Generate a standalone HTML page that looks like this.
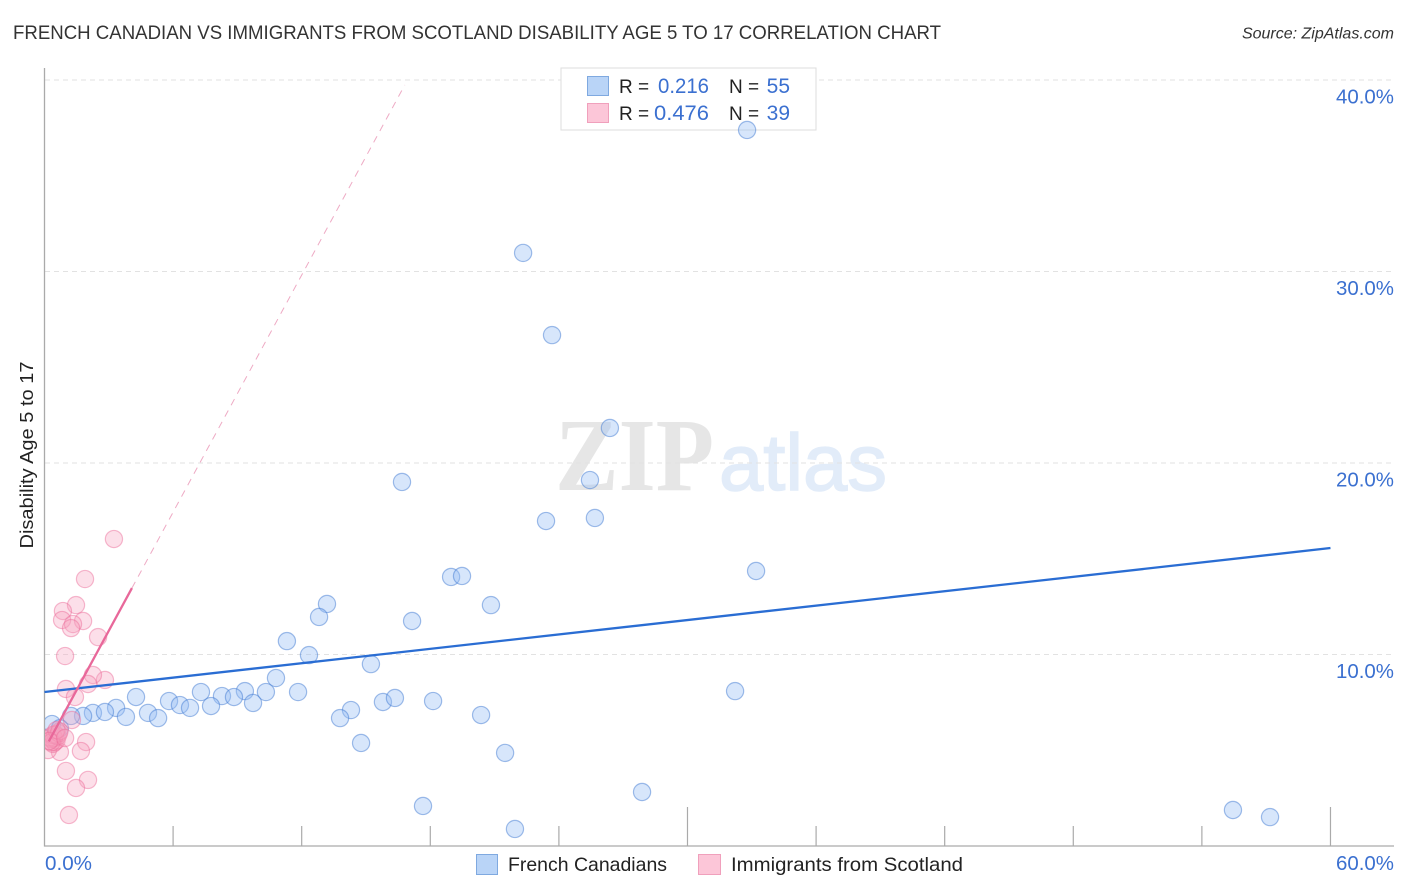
<!DOCTYPE html>
<html lang="en">
<head>
<meta charset="utf-8">
<title>French Canadian vs Immigrants from Scotland Disability Age 5 to 17 Correlation Chart</title>
<style>
html,body{margin:0;padding:0;background:#fff;}
svg{display:block;font-family:"Liberation Sans",sans-serif;}
</style>
</head>
<body>
<svg id="chart" width="1406" height="892" viewBox="0 0 1406 892" xmlns="http://www.w3.org/2000/svg">
  <defs>
    <clipPath id="plotClip"><rect x="45" y="60" width="1349" height="786"/></clipPath>
  </defs>
  <rect width="1406" height="892" fill="#fff"/>
  <g>
    <text x="555" y="490" font-family="'Liberation Serif',serif" font-weight="bold" font-size="104" fill="#e6e6e6" textLength="159" lengthAdjust="spacingAndGlyphs">ZIP</text>
    <text x="719" y="490" font-family="'Liberation Sans',sans-serif" font-size="80" fill="#e2ecf9" stroke="#e2ecf9" stroke-width="1.5" textLength="168" lengthAdjust="spacingAndGlyphs">atlas</text>
  </g>
  <g id="grid"></g>
  <g id="axes"></g>
  <text x="13" y="39" font-size="19.5" fill="#333" textLength="928" lengthAdjust="spacingAndGlyphs">FRENCH CANADIAN VS IMMIGRANTS FROM SCOTLAND DISABILITY AGE 5 TO 17 CORRELATION CHART</text>
  <text x="1394" y="38.5" font-size="16" font-style="italic" fill="#333" text-anchor="end">Source: ZipAtlas.com</text>
  <text transform="translate(33,455) rotate(-90)" font-size="18" fill="#222" text-anchor="middle" textLength="187" lengthAdjust="spacingAndGlyphs">Disability Age 5 to 17</text>
  <g>
    <rect x="561" y="68" width="255" height="62" fill="#fff" stroke="#ddd" stroke-width="1"/>
    <rect x="587.5" y="76.5" width="21" height="19" fill="#b9d4f7" stroke="#7fa9e0"/>
    <rect x="587.5" y="103.5" width="21" height="19" fill="#fcc6d8" stroke="#f0a0bc"/>
    <text x="619" y="93" font-size="19" fill="#222">R =</text>
    <text x="658" y="93" font-size="21" fill="#3b70d0" textLength="51" lengthAdjust="spacingAndGlyphs">0.216</text>
    <text x="729" y="93" font-size="19" fill="#222">N =</text>
    <text x="790" y="93" font-size="21" fill="#3b70d0" text-anchor="end">55</text>
    <text x="619" y="120" font-size="19" fill="#222">R =</text>
    <text x="654" y="120" font-size="21" fill="#3b70d0" textLength="55" lengthAdjust="spacingAndGlyphs">0.476</text>
    <text x="729" y="120" font-size="19" fill="#222">N =</text>
    <text x="790" y="120" font-size="21" fill="#3b70d0" text-anchor="end">39</text>
  </g>
  <g clip-path="url(#plotClip)">
    <g id="pointsBlue"></g>
    <g id="pointsPink"></g>
  </g>
  <g id="trends"></g>
  <g id="tickLabels"></g>
  <g>
    <rect x="476.5" y="854.5" width="21" height="20" fill="#b9d4f7" stroke="#7fa9e0"/>
    <text x="508" y="871" font-size="19.5" fill="#222" textLength="159" lengthAdjust="spacingAndGlyphs">French Canadians</text>
    <rect x="698.5" y="854.5" width="22" height="20" fill="#fcc6d8" stroke="#f0a0bc"/>
    <text x="731" y="871" font-size="19.5" fill="#222" textLength="232" lengthAdjust="spacingAndGlyphs">Immigrants from Scotland</text>
  </g>
</svg>
<script>
const blueX = [32.78,22.33,23.68,26.38,16.68,25.45,23.40,25.68,33.20,18.97,19.48,20.83,13.18,12.81,17.15,11.31,12.34,15.23,10.80,32.22,4.27,5.81,7.30,9.35,8.28,8.84,10.33,11.83,6.32,7.77,9.73,6.79,3.34,2.26,2.82,4.83,3.80,5.30,1.80,1.24,14.30,13.79,15.79,16.35,18.13,20.37,14.77,21.49,27.88,17.66,21.95,55.45,57.18,0.35,0.72];
const blueY = [37.39,30.97,26.68,21.83,19.01,19.11,16.97,17.13,14.36,14.05,14.10,12.58,12.64,11.96,11.75,10.70,9.97,9.50,8.77,8.09,7.78,7.57,8.04,8.09,7.83,7.78,8.04,8.04,7.36,7.31,7.47,7.21,7.21,6.95,7.00,6.95,6.74,6.68,6.79,6.79,7.10,6.68,7.52,7.73,7.57,6.84,5.38,4.86,2.82,2.09,0.89,1.88,1.51,6.37,6.15];
const pinkX = [3.24,1.89,1.47,0.86,0.82,1.80,1.33,1.24,2.50,0.96,2.82,2.26,2.03,1.00,1.42,1.94,1.70,0.72,1.00,2.03,1.47,1.14,1.28,0.16,0.39,0.47,0.56,0.33,0.44,0.25,0.61,0.50,0.39,0.67,0.33,0.70,0.56,0.22,0.96];
const pinkY = [16.03,13.94,12.58,12.27,11.80,11.75,11.59,11.38,10.91,9.92,8.67,8.93,8.46,8.20,7.78,5.43,4.96,4.91,3.92,3.45,3.03,1.62,6.58,5.01,5.33,5.42,5.51,5.58,5.64,5.67,5.73,5.83,5.80,5.89,5.42,5.99,6.05,5.48,5.64];
const blueTrendX = [0,60];
const blueTrendY = [8.04,15.56];
const pinkSolidX = [0.2,4.08];
const pinkSolidY = [5.46,13.47];
const pinkDashX = [4.08,16.81];
const pinkDashY = [13.47,39.74];
const yGridValues = [10,20,30,40];
const yTickLabels = ["10.0%","20.0%","30.0%","40.0%"];
const xTickValues = [6,12,18,24,30,36,42,48,54,60];
const xMajorTicks = [30,60];
const xEndValues = [0,60];
const xEndLabels = ["0.0%","60.0%"];

const NS = "http://www.w3.org/2000/svg";
const xScale = v => 44.5 + v * 21.433;
const yScale = v => 846 - v * 19.15;
function mk(parent, tag, attrs, text) {
  const el = document.createElementNS(NS, tag);
  for (const k in attrs) el.setAttribute(k, attrs[k]);
  if (text !== undefined) el.textContent = text;
  parent.appendChild(el);
  return el;
}
const grid = document.getElementById("grid");
const axes = document.getElementById("axes");
const tickLabels = document.getElementById("tickLabels");
const pointsBlue = document.getElementById("pointsBlue");
const pointsPink = document.getElementById("pointsPink");
const trends = document.getElementById("trends");

yGridValues.forEach((v, i) => {
  const line = mk(grid, "line", {x1: 45, x2: 1394, y1: yScale(v), y2: yScale(v), stroke: "#e2e2e2", "stroke-width": 1, "stroke-dasharray": "5 4"});
  
  
  const label = mk(tickLabels, "text", {x: 1394, y: yScale(v) + 23.5, "font-size": 20, fill: "#3b70d0", "text-anchor": "end", textLength: 58, lengthAdjust: "spacingAndGlyphs"}, yTickLabels[i]);
  
  
});

const yAxis = mk(axes, "line", {x1: 44.5, x2: 44.5, y1: 68, y2: 846.5, stroke: "#aaa", "stroke-width": 1.3});


const xAxis = mk(axes, "line", {x1: 44, x2: 1394, y1: 846, y2: 846, stroke: "#aaa", "stroke-width": 1.3});



xTickValues.forEach(v => {
  const top = xMajorTicks.includes(v) ? 807 : 826;
  const tick = mk(axes, "line", {x1: xScale(v), x2: xScale(v), y1: top, y2: 846, stroke: "#aaa", "stroke-width": 1.2});
  
  
});

xEndValues.forEach((v, i) => {
  const isStart = i === 0;
  const label = mk(tickLabels, "text", {x: isStart ? 45 : 1336, y: 870, "font-size": 20, fill: "#3b70d0", textLength: isStart ? 47 : 58, lengthAdjust: "spacingAndGlyphs"}, xEndLabels[i]);
  
  
});

blueX.forEach((v, i) => {
  const dot = mk(pointsBlue, "circle", {cx: xScale(v), cy: yScale(blueY[i]), r: 8.6, fill: "rgba(150,190,245,0.38)", stroke: "rgba(60,120,210,0.48)", "stroke-width": 1.2});
  
  
});
pinkX.forEach((v, i) => {
  const dot = mk(pointsPink, "circle", {cx: xScale(v), cy: yScale(pinkY[i]), r: 8.6, fill: "rgba(246,160,190,0.34)", stroke: "rgba(236,110,155,0.48)", "stroke-width": 1.2});
  
  
});

const blueTrend = mk(trends, "line", {x1: xScale(blueTrendX[0]), y1: yScale(blueTrendY[0]), x2: xScale(blueTrendX[1]), y2: yScale(blueTrendY[1]), stroke: "#2a6dd3", "stroke-width": 2.3});


const pinkSolid = mk(trends, "line", {x1: xScale(pinkSolidX[0]), y1: yScale(pinkSolidY[0]), x2: xScale(pinkSolidX[1]), y2: yScale(pinkSolidY[1]), stroke: "#e8689a", "stroke-width": 2.3});


const pinkDash = mk(trends, "line", {x1: xScale(pinkDashX[0]), y1: yScale(pinkDashY[0]), x2: xScale(pinkDashX[1]), y2: yScale(pinkDashY[1]), stroke: "#eeaac4", "stroke-width": 1, "stroke-dasharray": "7 6"});


</script>
</body>
</html>
